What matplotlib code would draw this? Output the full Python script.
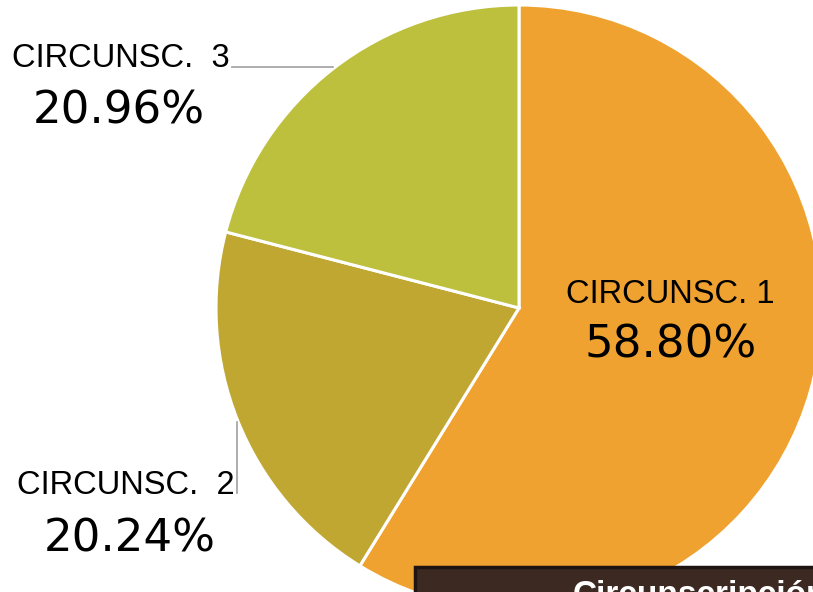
import matplotlib
matplotlib.use("Agg")
import matplotlib.pyplot as plt
from matplotlib.patches import Rectangle

# datos
labels = ["CIRCUNSC. 1", "CIRCUNSC.  2", "CIRCUNSC.  3"]
shares = [58.80, 20.24, 20.96]
colors = ["#EFA22F", "#BFA732", "#BDC03D"]

W, H = 813, 592
cx, cy, r = 519, 308, 303   # centro y radio del pastel en pixeles


def px(x, y):
    # pixel (origen arriba-izquierda) -> coordenadas de datos
    return (x - cx) / r, (cy - y) / r


fig = plt.figure(figsize=(W / 100, H / 100), dpi=100)
ax = fig.add_axes([0, 0, 1, 1])
ax.pie(shares, colors=colors, startangle=90, counterclock=False, radius=1,
       wedgeprops=dict(edgecolor="white", linewidth=2.2))
ax.set_xlim(-cx / r, (W - cx) / r)
ax.set_ylim(-(H - cy) / r, cy / r)
ax.set_aspect("auto")
ax.axis("off")

lab_font = ["Liberation Sans", "DejaVu Sans"]
pct_font = ["DejaVu Sans"]

# posiciones de las etiquetas (centro x, linea base y, pixeles)
lab_pos = [(670, 303), (126, 494), (121, 67)]
pct_pos = [(671, 358), (130, 552), (119, 123)]
for lab, val, lp, pp in zip(labels, shares, lab_pos, pct_pos):
    ax.text(*px(*lp), lab, ha="center", va="baseline", fontsize=23.5,
            family=lab_font, color="black")
    ax.text(*px(*pp), f"{val:.2f}%", ha="center", va="baseline", fontsize=32.5,
            family=pct_font, color="black")

# lineas guia
ax.plot(*zip(px(232, 67), px(333, 67)), color="#A0A0A0", lw=1.2)
ax.plot(*zip(px(237, 422), px(237, 493)), color="#A0A0A0", lw=1.2)

# caja oscura de titulo (cortada por el borde)
x0, y0 = px(415, 620)
x1, y1 = px(830, 567)
ax.add_patch(Rectangle((x0, y0), x1 - x0, y1 - y0, facecolor="#3C2A22",
                       edgecolor="#1E1512", lw=2.5, zorder=5, clip_on=False))
ax.text(*px(573, 580), "Circunscripción", ha="left", va="top", fontsize=24,
        fontweight="bold", family=["Liberation Sans", "DejaVu Sans"],
        color="white", zorder=6)

fig.savefig("out.png", dpi=100)
